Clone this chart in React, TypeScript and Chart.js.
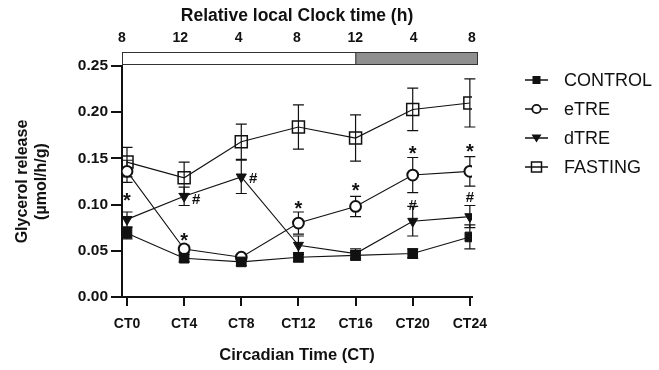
import React, { useEffect, useRef } from 'react';
import { Chart, registerables } from 'chart.js';

Chart.register(...registerables);

const FONT = "'Liberation Sans', Arial, Helvetica, sans-serif";
const INK = '#111111';

// ---- data ----
const ctTimes = [0, 4, 8, 12, 16, 20, 24];
const ctLabels = ['CT0', 'CT4', 'CT8', 'CT12', 'CT16', 'CT20', 'CT24'];
const clockLabels = ['8', '12', '4', '8', '12', '4', '8'];
const yTickValues = [0, 0.05, 0.1, 0.15, 0.2, 0.25];

const seriesNames = ['CONTROL', 'eTRE', 'dTRE', 'FASTING'];

const controlMean = [0.069, 0.042, 0.038, 0.043, 0.045, 0.047, 0.065];
const controlSem = [0.006, 0.004, 0.004, 0.005, 0.005, 0.005, 0.013];

const eTreMean = [0.136, 0.052, 0.043, 0.080, 0.098, 0.132, 0.136];
const eTreSem = [0.012, 0.004, 0.003, 0.012, 0.011, 0.019, 0.016];

const dTreMean = [0.084, 0.109, 0.130, 0.056, 0.047, 0.082, 0.087];
const dTreSem = [0.008, 0.010, 0.018, 0.010, 0.005, 0.016, 0.012];

const fastingMean = [0.146, 0.129, 0.168, 0.184, 0.172, 0.203, 0.210];
const fastingSem = [0.016, 0.017, 0.019, 0.024, 0.025, 0.023, 0.026];

// light / dark phase bar (positions on the top clock axis, hours from start)
const phaseStarts = [0, 16];
const phaseEnds = [16, 24];
const phaseColors = ['#ffffff', '#8f8f8f'];

// significance marks
const markCt = [0, 4, 4, 8, 12, 16, 20, 20, 24, 24];
const markValue = [0.108, 0.065, 0.106, 0.129, 0.0995, 0.119, 0.159, 0.0995, 0.161, 0.108];
const markText = ['*', '*', '#', '#', '*', '*', '*', '#', '*', '#'];
const markDx = [0, 0, 12, 12, 0, 0, 0, 0, 0, 0];

const semList = [controlSem, eTreSem, dTreSem, fastingSem];

const toPoints = (vals: number[]) => vals.map((v, i) => ({ x: ctTimes[i], y: v }));

const errorBarPlugin = {
  id: 'errorBars',
  beforeDatasetsDraw(chart: any) {
    const { ctx, scales } = chart;
    const x = scales.x;
    const y = scales.y;
    ctx.save();
    ctx.strokeStyle = INK;
    ctx.lineWidth = 1.2;
    chart.data.datasets.forEach((ds: any, di: number) => {
      const sem = semList[di];
      ds.data.forEach((p: any, i: number) => {
        const e = sem[i];
        const px = x.getPixelForValue(p.x);
        const t = y.getPixelForValue(p.y + e);
        const b = y.getPixelForValue(p.y - e);
        ctx.beginPath();
        ctx.moveTo(px, t);
        ctx.lineTo(px, b);
        ctx.moveTo(px - 5.5, t);
        ctx.lineTo(px + 5.5, t);
        ctx.moveTo(px - 5.5, b);
        ctx.lineTo(px + 5.5, b);
        ctx.stroke();
      });
    });
    ctx.restore();
  },
};

const marksPlugin = {
  id: 'marks',
  afterDatasetsDraw(chart: any) {
    const { ctx, scales } = chart;
    ctx.save();
    ctx.fillStyle = INK;
    ctx.textAlign = 'center';
    ctx.textBaseline = 'alphabetic';
    markText.forEach((t, i) => {
      ctx.font = t === '*' ? `bold 20px ${FONT}` : `bold 15px ${FONT}`;
      const m = ctx.measureText(t);
      const px = scales.x.getPixelForValue(markCt[i]) + markDx[i];
      const py = scales.y.getPixelForValue(markValue[i]);
      const asc = m.actualBoundingBoxAscent || 0;
      const desc = m.actualBoundingBoxDescent || 0;
      ctx.fillText(t, px, py + (asc - desc) / 2);
    });
    ctx.restore();
  },
};

const phaseBarPlugin = {
  id: 'phaseBar',
  afterDraw(chart: any) {
    const { ctx, chartArea, scales } = chart;
    const x2 = scales.x2;
    const top = chartArea.top - 14;
    const h = 12;
    ctx.save();
    const left = x2.getPixelForValue(0);
    const right = x2.getPixelForValue(24) + 6;
    phaseStarts.forEach((s, i) => {
      const a = x2.getPixelForValue(s);
      const b = i === phaseStarts.length - 1 ? right : x2.getPixelForValue(phaseEnds[i]);
      ctx.fillStyle = phaseColors[i];
      ctx.fillRect(a, top, b - a, h);
    });
    ctx.strokeStyle = '#333';
    ctx.lineWidth = 1;
    ctx.strokeRect(left + 0.5, top + 0.5, right - left - 1, h);
    const mid = x2.getPixelForValue(phaseStarts[1]);
    ctx.beginPath();
    ctx.moveTo(mid + 0.5, top);
    ctx.lineTo(mid + 0.5, top + h);
    ctx.stroke();
    ctx.restore();
  },
};

const legendPlugin = {
  id: 'customLegend',
  afterDraw(chart: any) {
    const { ctx } = chart;
    ctx.save();
    seriesNames.forEach((name, i) => {
      const y = 80 + i * 29;
      const cx = 536.5;
      ctx.strokeStyle = INK;
      ctx.lineWidth = 1.5;
      ctx.beginPath();
      ctx.moveTo(525, y);
      ctx.lineTo(548, y);
      ctx.stroke();
      ctx.fillStyle = INK;
      if (i === 0) {
        ctx.fillRect(cx - 4, y - 4, 8, 8);
      } else if (i === 1) {
        ctx.beginPath();
        ctx.arc(cx, y, 4.2, 0, Math.PI * 2);
        ctx.fillStyle = '#fff';
        ctx.fill();
        ctx.lineWidth = 1.8;
        ctx.stroke();
      } else if (i === 2) {
        ctx.beginPath();
        ctx.moveTo(cx - 5, y - 3.5);
        ctx.lineTo(cx + 5, y - 3.5);
        ctx.lineTo(cx, y + 4.5);
        ctx.closePath();
        ctx.fill();
      } else {
        ctx.lineWidth = 1.5;
        ctx.strokeRect(cx - 5, y - 5, 10, 10);
      }
      ctx.fillStyle = INK;
      ctx.font = `18px ${FONT}`;
      ctx.textAlign = 'left';
      ctx.textBaseline = 'middle';
      ctx.fillText(name, 564, y + 1);
    });
    ctx.restore();
  },
};

const lineBase = {
  borderColor: INK,
  borderWidth: 1.1,
  pointBorderColor: INK,
  tension: 0,
  fill: false,
  xAxisID: 'x',
  yAxisID: 'y',
};

export default function App() {
  const ref = useRef<HTMLCanvasElement>(null);

  useEffect(() => {
    if (!ref.current) return;
    const chart = new Chart(ref.current, {
      type: 'line',
      data: {
        datasets: [
          {
            ...lineBase,
            label: seriesNames[0],
            data: toPoints(controlMean),
            pointStyle: 'rect',
            pointRadius: 6.8,
            pointBackgroundColor: INK,
            pointBorderWidth: 1,
          },
          {
            ...lineBase,
            label: seriesNames[1],
            data: toPoints(eTreMean),
            pointStyle: 'circle',
            pointRadius: 5.4,
            pointBackgroundColor: '#ffffff',
            pointBorderWidth: 2,
          },
          {
            ...lineBase,
            label: seriesNames[2],
            data: toPoints(dTreMean),
            pointStyle: 'triangle',
            pointRotation: 180,
            pointRadius: 5.8,
            pointBackgroundColor: INK,
            pointBorderWidth: 1,
          },
          {
            ...lineBase,
            label: seriesNames[3],
            data: toPoints(fastingMean),
            pointStyle: 'rect',
            pointRadius: 8.5,
            pointBackgroundColor: 'rgba(0,0,0,0)',
            pointBorderWidth: 1.5,
          },
        ] as any,
      },
      options: {
        animation: false,
        responsive: false,
        maintainAspectRatio: false,
        devicePixelRatio: 1,
        layout: { padding: { left: 0, right: 187, top: 0, bottom: 0 } },
        plugins: {
          legend: { display: false },
          tooltip: { enabled: false },
        },
        scales: {
          x: {
            type: 'linear',
            position: 'bottom',
            min: -0.35,
            max: 24.15,
            afterFit: (s: any) => {
              s.height = 73;
            },
            afterBuildTicks: (s: any) => {
              s.ticks = ctTimes.map((v) => ({ value: v }));
            },
            ticks: {
              autoSkip: false,
              maxRotation: 0,
              padding: 10,
              color: INK,
              font: { family: FONT, size: 14, weight: 'bold' },
              callback: (v: any) => ctLabels[ctTimes.indexOf(Number(v))],
            },
            grid: {
              display: true,
              drawOnChartArea: false,
              drawTicks: true,
              tickLength: 9,
              color: INK,
              lineWidth: 2,
            },
            border: { display: true, color: INK, width: 2 },
            title: {
              display: true,
              text: 'Circadian Time (CT)',
              color: INK,
              font: { family: FONT, size: 16.5, weight: 'bold', lineHeight: 1.2 },
              padding: { top: 0, bottom: 5 },
            },
          },
          x2: {
            type: 'linear',
            position: 'top',
            min: 0,
            max: 24,
            afterFit: (s: any) => {
              s.height = 66;
            },
            afterBuildTicks: (s: any) => {
              s.ticks = ctTimes.map((v) => ({ value: v }));
            },
            ticks: {
              autoSkip: false,
              maxRotation: 0,
              padding: 19,
              color: INK,
              font: { family: FONT, size: 14, weight: 'bold' },
              callback: (v: any) => clockLabels[ctTimes.indexOf(Number(v))],
            },
            grid: { display: false, drawTicks: false },
            border: { display: false },
            title: {
              display: true,
              text: 'Relative local Clock time (h)',
              color: INK,
              font: { family: FONT, size: 17.5, weight: 'bold', lineHeight: 1.2 },
              padding: { top: 6, bottom: 0 },
            },
          },
          y: {
            type: 'linear',
            min: 0,
            max: 0.25,
            afterFit: (s: any) => {
              s.width = 122;
            },
            afterBuildTicks: (s: any) => {
              s.ticks = yTickValues.map((v) => ({ value: v }));
            },
            ticks: {
              padding: 3,
              color: INK,
              font: { family: FONT, size: 15.5, weight: 'bold' },
              callback: (v: any) => Number(v).toFixed(2),
            },
            grid: {
              display: true,
              drawOnChartArea: false,
              drawTicks: true,
              tickLength: 11,
              color: INK,
              lineWidth: 2,
            },
            border: { display: true, color: INK, width: 2 },
            title: {
              display: true,
              text: ['Glycerol release', '(µmol/h/g)'],
              color: INK,
              font: { family: FONT, size: 16, weight: 'bold', lineHeight: 1.2 },
              padding: { top: 13, bottom: 0 },
            },
          },
        },
      } as any,
      plugins: [errorBarPlugin, marksPlugin, phaseBarPlugin, legendPlugin],
    });
    return () => chart.destroy();
  }, []);

  return (
    <div style={{ position: 'absolute', left: 0, top: 0, width: 659, height: 370 }}>
      <canvas ref={ref} width={659} height={370} style={{ display: 'block' }} />
    </div>
  );
}
